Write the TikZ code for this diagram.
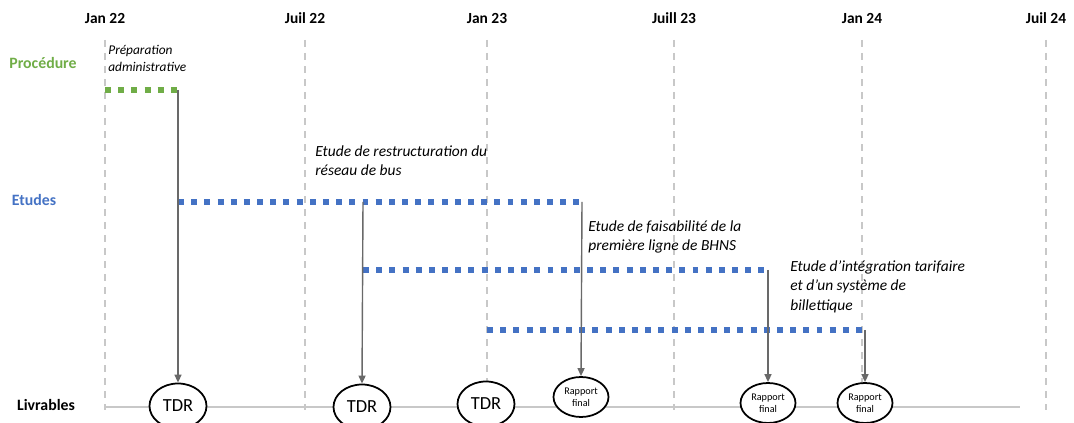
\documentclass[tikz,border=0pt]{standalone}
\usepackage{fontspec}
\setmainfont{Carlito}
\usepackage{tikz}
\usetikzlibrary{positioning,arrows.meta,shapes.geometric}
\definecolor{procgreen}{RGB}{112,173,71}
\definecolor{etudblue}{RGB}{68,114,196}
\definecolor{gridgray}{RGB}{200,200,200}
\definecolor{arrgray}{RGB}{105,105,105}
\tikzset{
  jalon/.style={gridgray,line width=0.8pt,dash pattern=on 4pt off 3.4pt},
  datelbl/.style={font=\fontsize{8.8}{10}\selectfont\bfseries},
  lane/.style={font=\fontsize{9}{10}\selectfont\bfseries,anchor=center},
  bar/.style={line width=3.3pt,dash pattern=on 3.4pt off 4.1pt},
  note/.style={anchor=north west,align=left,font=\fontsize{8.8}{11.2}\selectfont\itshape,inner sep=0pt},
  livr/.style={draw,ellipse,line width=1pt,fill=white,inner sep=0pt,align=center},
  tdr/.style={livr,minimum width=1.14cm,minimum height=0.9cm,font=\fontsize{10.5}{12}\selectfont},
  rapp/.style={livr,minimum width=1.1cm,minimum height=0.8cm,font=\fontsize{5.8}{7}\selectfont},
  ar/.style={-{Triangle[length=1.6mm,width=1.4mm]},arrgray,line width=0.8pt},
}

\begin{document}
\begin{tikzpicture}
  \useasboundingbox (0,0) rectangle (21.48,8.46);
  \clip (0,0) rectangle (21.48,8.46);
  % time axis
  \foreach \x/\lab [count=\i] in {2.1/Jan 22,6.1/Juil 22,9.74/Jan 23,13.48/Juill 23,17.24/Jan 24,20.92/Juil 24} {
    \draw[jalon] (\x,7.66) -- (\x,0.26);
    \node[datelbl] (t\i) at (\x,8.1) {\lab};
  }
  \draw[gridgray,line width=0.8pt] (2.1,0.32) -- (20.4,0.32);
  % lanes
  \node[lane,procgreen] (proc) at (0.86,7.2) {Procédure};
  \node[lane,etudblue] (etud) at (0.68,4.46) {Etudes};
  \node[lane] (livrl) at (0.92,0.36) {Livrables};
  % bars
  \coordinate (p0) at (2.1,6.66);   \coordinate (p1) at (3.56,6.66);
  \coordinate (a0) at (3.56,4.42);  \coordinate (a1) at (11.64,4.42);
  \coordinate (b0) at (7.26,3.06);  \coordinate (b1) at (15.36,3.06);
  \coordinate (c0) at (9.74,1.86);  \coordinate (c1) at (17.3,1.86);
  \coordinate (as) at (7.26,4.42);
  \draw[bar,procgreen] (p0) -- (p1);
  \draw[bar,etudblue] (a0) -- (a1);
  \draw[bar,etudblue] (b0) -- (b1);
  \draw[bar,etudblue] (c0) -- (c1);
  \node[note,font=\fontsize{7.6}{9.6}\selectfont\itshape] (prep) at (2.16,7.56) {Préparation\\administrative};
  \node[note] (restr) at (6.3,5.56) {Etude de restructuration du\\réseau de bus};
  \node[note] (faisa) at (11.76,4.06) {Etude de faisabilité de la\\première ligne de BHNS};
  \node[note] (tarif) at (15.8,3.26) {Etude d’intégration tarifaire\\et d’un système de\\billettique};
  % livrables
  \node[tdr] (tdr1) at (3.56,0.34) {TDR};
  \node[tdr] (tdr2) at (7.24,0.32) {TDR};
  \node[tdr] (tdr3) at (9.72,0.38) {TDR};
  \node[rapp] (rf1) at (11.62,0.52) {Rapport\\final};
  \node[rapp] (rf2) at (15.36,0.4) {Rapport\\final};
  \node[rapp] (rf3) at (17.3,0.4) {Rapport\\final};
  \draw[ar] (p1) -- (tdr1.north);
  \draw[ar] (as) -- (tdr2.north);
  \draw[ar] (a1) -- (rf1.north);
  \draw[ar] (b1) -- (rf2.north);
  \draw[ar] (c1) -- (rf3.north);
\end{tikzpicture}
\end{document}
